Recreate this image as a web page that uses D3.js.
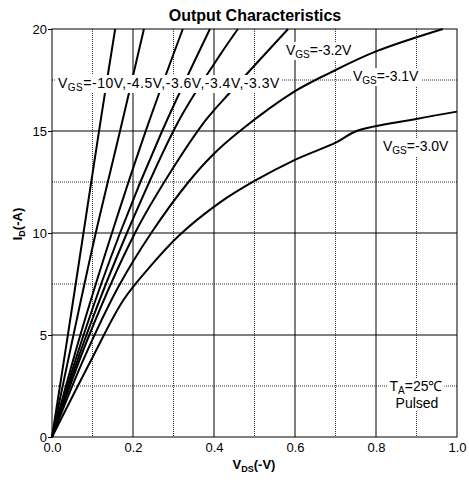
<!DOCTYPE html>
<html>
<head>
<meta charset="utf-8">
<title>Output Characteristics</title>
<script src="https://d3js.org/d3.v7.min.js"></script>
<style>
  body { margin: 0; background: #fff; }
  svg text { font-family: "Liberation Sans", Arial, sans-serif; fill: #000; }
</style>
</head>
<body>
<svg id="chart" width="469" height="486"></svg>
<script>
// ID(-A) vs VDS(-V), one array of [VDS, ID] per gate voltage
const vgs10  = [[0,0],[0.04,5.1],[0.08,10.3],[0.12,15.5],[0.156,20]];
const vgs45  = [[0,0],[0.053,5],[0.108,10],[0.168,15],[0.227,20]];
const vgs36  = [[0,0],[0.07,5],[0.148,10],[0.235,15.2],[0.323,20]];
const vgs34  = [[0,0],[0.078,5],[0.168,10],[0.272,15],[0.39,20]];
const vgs33  = [[0,0],[0.085,5],[0.185,10],[0.314,15.54],[0.415,18.73],[0.459,20]];
const vgs32  = [[0,0],[0.092,5],[0.205,10],[0.29,12.9],[0.38,15.54],[0.44,16.9],[0.583,20]];
const vgs31  = [[0,0],[0.08,3.9],[0.165,7.4],[0.245,10],[0.337,12.5],[0.398,13.85],[0.464,15],[0.6,16.95],[0.686,17.85],[0.8,18.9],[0.965,20]];
const vgs30  = [[0,0],[0.1,3.9],[0.176,6.7],[0.24,8.3],[0.315,9.9],[0.415,11.5],[0.5,12.55],[0.596,13.55],[0.703,14.45],[0.752,15.0],[0.9,15.59],[1.0,15.95]];
const curves = [vgs10, vgs45, vgs36, vgs34, vgs33, vgs32, vgs31, vgs30];

const xMajor = [0, 0.2, 0.4, 0.6, 0.8, 1.0];
const xMinor = [0.1, 0.3, 0.5, 0.7, 0.9];
const yMajor = [0, 5, 10, 15, 20];
const yMinor = [2.5, 7.5, 12.5, 17.5];

const svg = d3.select('#chart');
const margin = { top: 29, right: 12, bottom: 49, left: 52 };
const width = +svg.attr('width') - margin.left - margin.right;
const height = +svg.attr('height') - margin.top - margin.bottom;

const x = d3.scaleLinear().domain([0, 1]).range([0, width]);
const y = d3.scaleLinear().domain([0, 20]).range([height, 0]);

const g = svg.append('g').attr('transform', `translate(${margin.left},${margin.top})`);

// minor grid (dotted)
g.selectAll('.vminor').data(xMinor).enter().append('line')
    .attr('x1', d => x(d)).attr('x2', d => x(d))
    .attr('y1', 0).attr('y2', height)
    .attr('stroke', '#333').attr('stroke-dasharray', '1,1');
g.selectAll('.hminor').data(yMinor).enter().append('line')
    .attr('x1', 0).attr('x2', width)
    .attr('y1', d => y(d)).attr('y2', d => y(d))
    .attr('stroke', '#333').attr('stroke-dasharray', '1,1');

// major grid (solid)
g.selectAll('.vmajor').data(xMajor.slice(1, -1)).enter().append('line')
    .attr('x1', d => x(d)).attr('x2', d => x(d))
    .attr('y1', 0).attr('y2', height)
    .attr('stroke', '#000');
g.selectAll('.hmajor').data(yMajor.slice(1, -1)).enter().append('line')
    .attr('x1', 0).attr('x2', width)
    .attr('y1', d => y(d)).attr('y2', d => y(d))
    .attr('stroke', '#000');

// curves
const line = d3.line()
    .x(d => x(d[0]))
    .y(d => y(d[1]))
    .curve(d3.curveCatmullRom.alpha(0.5));

g.selectAll('.curve').data(curves).enter().append('path')
    .attr('d', line)
    .attr('fill', 'none')
    .attr('stroke', '#000')
    .attr('stroke-width', 2);

// labels with white boxes
function addLabel(px, py, parts, anchor, spacing) {
    const lg = g.append('g');
    const t = lg.append('text')
        .attr('x', px).attr('y', py)
        .attr('font-size', 14)
        .attr('letter-spacing', spacing || 0)
        .attr('text-anchor', anchor || 'start');
    parts.forEach(p => {
        if (p.sub) {
            t.append('tspan').attr('font-size', 10).attr('dy', 3).text(p.t);
        } else {
            t.append('tspan').attr('dy', p.back ? -3 : 0).text(p.t);
        }
    });
    const b = t.node().getBBox();
    lg.insert('rect', 'text')
        .attr('x', b.x - 2).attr('y', b.y)
        .attr('width', b.width + 4).attr('height', b.height)
        .attr('fill', '#fff');
    return lg;
}

addLabel(58 - margin.left, 88 - margin.top,
    [{ t: 'V' }, { t: 'GS', sub: true }, { t: '=-10V,-4.5V,-3.6V,-3.4V,-3.3V', back: true }], 'start', 0.5);
addLabel(286 - margin.left, 55 - margin.top,
    [{ t: 'V' }, { t: 'GS', sub: true }, { t: '=-3.2V', back: true }]);
addLabel(353 - margin.left, 81 - margin.top,
    [{ t: 'V' }, { t: 'GS', sub: true }, { t: '=-3.1V', back: true }]);
addLabel(383 - margin.left, 151 - margin.top,
    [{ t: 'V' }, { t: 'GS', sub: true }, { t: '=-3.0V', back: true }]);

addLabel(416 - margin.left, 391 - margin.top,
    [{ t: 'T' }, { t: 'A', sub: true }, { t: '=25℃', back: true }], 'middle');
addLabel(417 - margin.left, 408 - margin.top, [{ t: 'Pulsed' }], 'middle');

// frame
g.append('rect')
    .attr('width', width).attr('height', height)
    .attr('fill', 'none').attr('stroke', '#000');

// axes
const yAxis = g.append('g')
    .call(d3.axisLeft(y).tickValues(yMajor).tickSize(4).tickPadding(1).tickFormat(d3.format('d')));
yAxis.select('.domain').remove();
yAxis.selectAll('text').attr('font-size', 13).attr('font-family', null);

const xAxis = g.append('g')
    .attr('transform', `translate(0,${height})`)
    .call(d3.axisBottom(x).tickValues(xMajor).tickSize(0).tickPadding(6).tickFormat(d3.format('.1f')));
xAxis.select('.domain').remove();
xAxis.selectAll('text').attr('font-size', 13).attr('font-family', null);

// title and axis titles
svg.append('text')
    .attr('x', 255).attr('y', 21)
    .attr('text-anchor', 'middle')
    .attr('font-size', 16).attr('font-weight', 'bold')
    .text('Output Characteristics');

const xt = svg.append('text')
    .attr('x', 254).attr('y', 469)
    .attr('text-anchor', 'middle')
    .attr('font-size', 13).attr('font-weight', 'bold');
xt.append('tspan').text('V');
xt.append('tspan').attr('font-size', 9).attr('dy', 3).text('DS');
xt.append('tspan').attr('dy', -3).text('(-V)');

const yt = svg.append('text')
    .attr('transform', 'translate(22,224) rotate(-90)')
    .attr('text-anchor', 'middle')
    .attr('font-size', 13).attr('font-weight', 'bold');
yt.append('tspan').text('I');
yt.append('tspan').attr('font-size', 9).attr('dy', 3).text('D');
yt.append('tspan').attr('dy', -3).text('(-A)');
</script>
</body>
</html>
